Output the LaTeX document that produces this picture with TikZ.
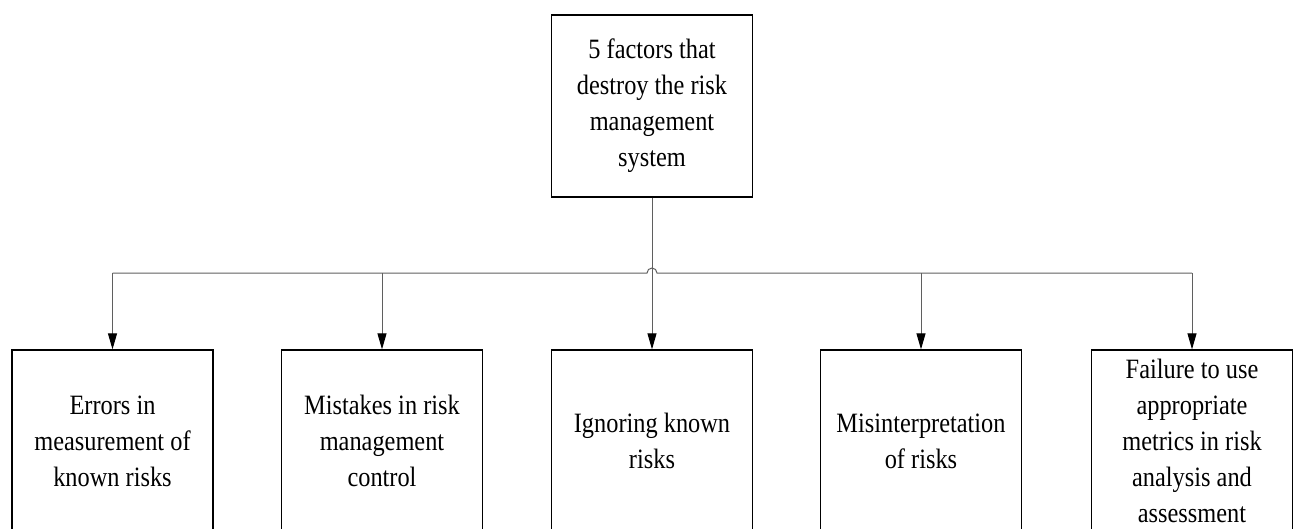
\documentclass[tikz,border=0pt]{standalone}
\usepackage{fontspec}
\setmainfont{Liberation Serif}[FakeStretch=0.87]
\usetikzlibrary{arrows.meta}
\definecolor{wire}{RGB}{95,95,95}
\begin{document}
\begin{tikzpicture}[x=1pt,y=-1pt,
  box/.style={draw=black,line width=1.3pt,rectangle,minimum width=201pt,minimum height=182pt,
    align=center,inner sep=2pt,font=\fontsize{28}{36}\selectfont},
  wireline/.style={draw=wire,line width=1pt},
  arr/.style={wireline,-{Triangle[length=16pt,width=9pt,fill=black,color=black]}}]
\useasboundingbox (0,0) rectangle (1297,528);
\clip (0,0) rectangle (1297,528);
% root box
\node[box] (root) at (652,106) {5 factors that\\destroy the risk\\management\\system};
% five factor boxes
\node[box] (f1) at (112.5,441) {Errors in\\measurement of\\known risks};
\node[box] (f2) at (382,441) {Mistakes in risk\\management\\control};
\node[box] (f3) at (652,441) {Ignoring known\\risks};
\node[box] (f4) at (921,441) {Misinterpretation\\of risks};
\node[box] (f5) at (1192,441) {Failure to use\\appropriate\\metrics in risk\\analysis and\\assessment};
% distribution bus with a hop over the vertical trunk
\coordinate (bus) at (652,273);
\draw[wireline] (f1.north |- bus) -- ([xshift=-5pt]bus) arc[start angle=180,end angle=0,radius=5pt] -- (f5.north |- bus);
% trunk from the root straight down to the middle box
\draw[arr] (root.south) -- (f3.north);
% drops to the other boxes
\draw[arr] (f1.north |- bus) -- (f1.north);
\draw[arr] (f2.north |- bus) -- (f2.north);
\draw[arr] (f4.north |- bus) -- (f4.north);
\draw[arr] (f5.north |- bus) -- (f5.north);
\end{tikzpicture}
\end{document}
